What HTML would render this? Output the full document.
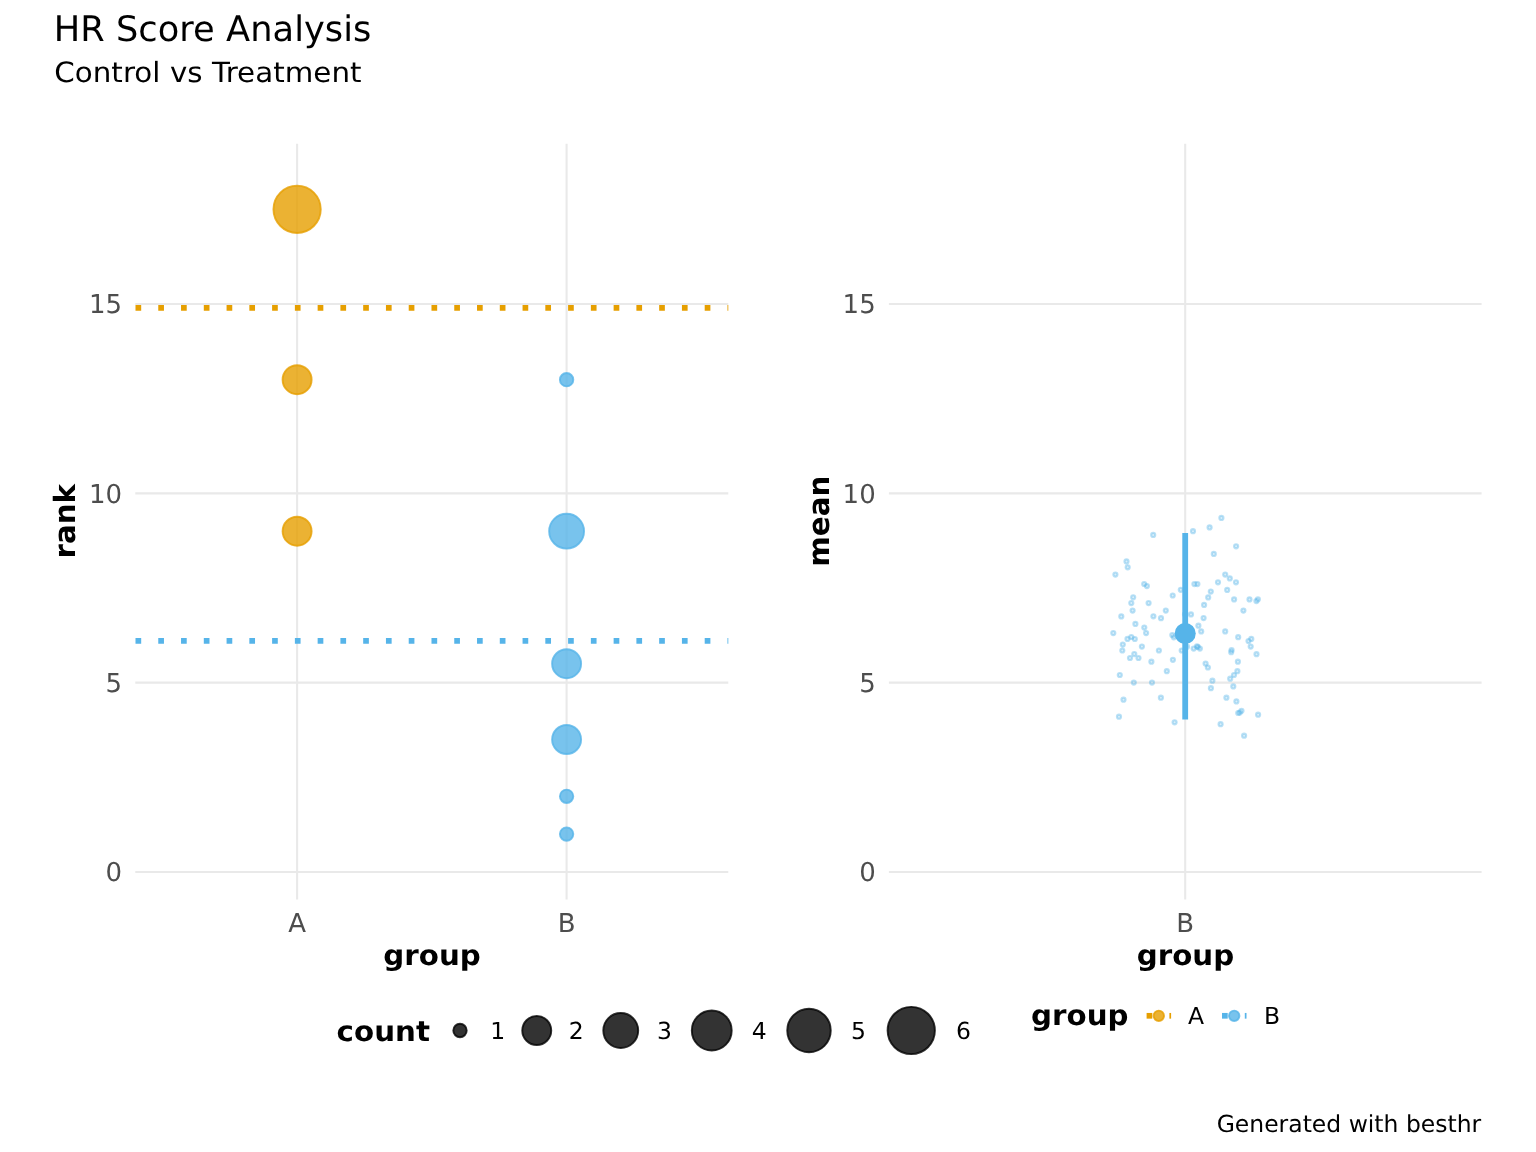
<!DOCTYPE html>
<html lang="en"><head><meta charset="utf-8"><title>HR Score Analysis</title>
<style>html,body{margin:0;padding:0;background:#fff}body{width:1536px;height:1152px;overflow:hidden}svg{display:block}text{font-family:"DejaVu Sans","Liberation Sans",sans-serif;text-rendering:geometricPrecision}.t{font-size:26px;fill:#4D4D4D}.l{font-size:23.47px;fill:#000}.b{font-size:29.33px;font-weight:bold;fill:#000}.g{stroke:#E9E9E9;stroke-width:2.1;fill:none}</style></head><body>
<svg width="1536" height="1152" viewBox="0 0 1536 1152">
<rect width="1536" height="1152" fill="#fff"/>
<text x="53.7" y="40.5" font-size="35.2" fill="#000" textLength="317.7" lengthAdjust="spacing">HR Score Analysis</text>
<text transform="translate(54.2,82.4) scale(1,0.95)" font-size="29.33" fill="#000" textLength="307.4" lengthAdjust="spacing">Control vs Treatment</text>
<g class="g">
<line x1="135.3" x2="728.3" y1="872.00" y2="872.00"/>
<line x1="135.3" x2="728.3" y1="682.66" y2="682.66"/>
<line x1="135.3" x2="728.3" y1="493.33" y2="493.33"/>
<line x1="135.3" x2="728.3" y1="304.00" y2="304.00"/>
<line x1="297.1" x2="297.1" y1="143.7" y2="899.6"/>
<line x1="566.6" x2="566.6" y1="143.7" y2="899.6"/>
<line x1="888.9" x2="1481.6" y1="872.00" y2="872.00"/>
<line x1="888.9" x2="1481.6" y1="682.66" y2="682.66"/>
<line x1="888.9" x2="1481.6" y1="493.33" y2="493.33"/>
<line x1="888.9" x2="1481.6" y1="304.00" y2="304.00"/>
<line x1="1185.2" x2="1185.2" y1="143.7" y2="899.6"/>
</g>
<line x1="135.5" x2="728.3" y1="307.9" y2="307.9" stroke="#E69F00" stroke-width="5.69" stroke-dasharray="5.692 17.076"/>
<line x1="135.5" x2="728.3" y1="640.9" y2="640.9" stroke="#56B4E9" stroke-width="5.69" stroke-dasharray="5.692 17.076"/>
<circle cx="297.1" cy="209.3" r="23.65" fill="#E69F00" fill-opacity="0.80"/>
<circle cx="297.1" cy="209.3" r="23.65" fill="none" stroke="#E69F00" stroke-opacity="0.80" stroke-width="1.90"/>
<circle cx="297.1" cy="379.7" r="14.50" fill="#E69F00" fill-opacity="0.80"/>
<circle cx="297.1" cy="379.7" r="14.50" fill="none" stroke="#E69F00" stroke-opacity="0.80" stroke-width="1.90"/>
<circle cx="297.1" cy="531.2" r="14.50" fill="#E69F00" fill-opacity="0.80"/>
<circle cx="297.1" cy="531.2" r="14.50" fill="none" stroke="#E69F00" stroke-opacity="0.80" stroke-width="1.90"/>
<circle cx="566.6" cy="379.7" r="6.70" fill="#56B4E9" fill-opacity="0.80"/>
<circle cx="566.6" cy="379.7" r="6.70" fill="none" stroke="#56B4E9" stroke-opacity="0.80" stroke-width="1.90"/>
<circle cx="566.6" cy="531.2" r="17.45" fill="#56B4E9" fill-opacity="0.80"/>
<circle cx="566.6" cy="531.2" r="17.45" fill="none" stroke="#56B4E9" stroke-opacity="0.80" stroke-width="1.90"/>
<circle cx="566.6" cy="663.7" r="14.50" fill="#56B4E9" fill-opacity="0.80"/>
<circle cx="566.6" cy="663.7" r="14.50" fill="none" stroke="#56B4E9" stroke-opacity="0.80" stroke-width="1.90"/>
<circle cx="566.6" cy="739.5" r="14.50" fill="#56B4E9" fill-opacity="0.80"/>
<circle cx="566.6" cy="739.5" r="14.50" fill="none" stroke="#56B4E9" stroke-opacity="0.80" stroke-width="1.90"/>
<circle cx="566.6" cy="796.3" r="6.70" fill="#56B4E9" fill-opacity="0.80"/>
<circle cx="566.6" cy="796.3" r="6.70" fill="none" stroke="#56B4E9" stroke-opacity="0.80" stroke-width="1.90"/>
<circle cx="566.6" cy="834.1" r="6.70" fill="#56B4E9" fill-opacity="0.80"/>
<circle cx="566.6" cy="834.1" r="6.70" fill="none" stroke="#56B4E9" stroke-opacity="0.80" stroke-width="1.90"/>
<text class="t" text-anchor="end" x="122.1" y="881.4">0</text>
<text class="t" text-anchor="end" x="875.7" y="881.4">0</text>
<text class="t" text-anchor="end" x="122.1" y="692.1">5</text>
<text class="t" text-anchor="end" x="875.7" y="692.1">5</text>
<text class="t" text-anchor="end" x="122.1" y="502.7">10</text>
<text class="t" text-anchor="end" x="875.7" y="502.7">10</text>
<text class="t" text-anchor="end" x="122.1" y="313.4">15</text>
<text class="t" text-anchor="end" x="875.7" y="313.4">15</text>
<text class="t" text-anchor="middle" x="297.1" y="931.5">A</text>
<text class="t" text-anchor="middle" x="566.6" y="931.5">B</text>
<text class="t" text-anchor="middle" x="1185.2" y="931.5">B</text>
<text class="b" text-anchor="middle" transform="translate(432.1,965) scale(1,0.96)">group</text>
<text class="b" text-anchor="middle" transform="translate(1185.5,965) scale(1,0.96)">group</text>
<text class="b" text-anchor="middle" transform="translate(74.9,521.2) rotate(-90)">rank</text>
<text class="b" text-anchor="middle" transform="translate(829.4,521.2) rotate(-90)">mean</text>
<g fill="#56B4E9" fill-opacity="0.22" stroke="#56B4E9" stroke-opacity="0.4" stroke-width="2.1">
<circle cx="1221.4" cy="517.9" r="2.05"/>
<circle cx="1209.6" cy="527.4" r="2.05"/>
<circle cx="1193.0" cy="531.2" r="2.05"/>
<circle cx="1153.2" cy="534.9" r="2.05"/>
<circle cx="1236.1" cy="546.3" r="2.05"/>
<circle cx="1213.8" cy="553.9" r="2.05"/>
<circle cx="1126.5" cy="561.4" r="2.05"/>
<circle cx="1127.7" cy="567.3" r="2.05"/>
<circle cx="1115.4" cy="574.6" r="2.05"/>
<circle cx="1225.2" cy="574.6" r="2.05"/>
<circle cx="1229.8" cy="578.4" r="2.05"/>
<circle cx="1236.0" cy="582.3" r="2.05"/>
<circle cx="1218.0" cy="582.3" r="2.05"/>
<circle cx="1144.2" cy="584.0" r="2.05"/>
<circle cx="1146.9" cy="586.1" r="2.05"/>
<circle cx="1194.4" cy="584.1" r="2.05"/>
<circle cx="1197.4" cy="584.1" r="2.05"/>
<circle cx="1180.8" cy="589.8" r="2.05"/>
<circle cx="1227.2" cy="589.9" r="2.05"/>
<circle cx="1210.8" cy="591.6" r="2.05"/>
<circle cx="1172.7" cy="595.5" r="2.05"/>
<circle cx="1133.2" cy="597.3" r="2.05"/>
<circle cx="1208.2" cy="597.4" r="2.05"/>
<circle cx="1234.1" cy="599.4" r="2.05"/>
<circle cx="1249.5" cy="599.4" r="2.05"/>
<circle cx="1257.9" cy="599.3" r="2.05"/>
<circle cx="1256.4" cy="601.1" r="2.05"/>
<circle cx="1131.3" cy="603.1" r="2.05"/>
<circle cx="1148.6" cy="603.1" r="2.05"/>
<circle cx="1204.1" cy="604.9" r="2.05"/>
<circle cx="1132.6" cy="610.6" r="2.05"/>
<circle cx="1165.8" cy="610.6" r="2.05"/>
<circle cx="1243.4" cy="610.6" r="2.05"/>
<circle cx="1185.0" cy="614.3" r="2.05"/>
<circle cx="1191.0" cy="614.4" r="2.05"/>
<circle cx="1121.3" cy="616.4" r="2.05"/>
<circle cx="1153.4" cy="616.3" r="2.05"/>
<circle cx="1161.0" cy="618.2" r="2.05"/>
<circle cx="1203.6" cy="618.1" r="2.05"/>
<circle cx="1135.4" cy="623.9" r="2.05"/>
<circle cx="1144.3" cy="627.6" r="2.05"/>
<circle cx="1198.4" cy="625.7" r="2.05"/>
<circle cx="1201.2" cy="631.4" r="2.05"/>
<circle cx="1225.2" cy="631.4" r="2.05"/>
<circle cx="1113.3" cy="633.1" r="2.05"/>
<circle cx="1146.1" cy="633.1" r="2.05"/>
<circle cx="1172.3" cy="635.0" r="2.05"/>
<circle cx="1173.8" cy="637.3" r="2.05"/>
<circle cx="1131.3" cy="637.0" r="2.05"/>
<circle cx="1238.2" cy="637.2" r="2.05"/>
<circle cx="1127.5" cy="638.9" r="2.05"/>
<circle cx="1134.8" cy="639.0" r="2.05"/>
<circle cx="1251.3" cy="638.9" r="2.05"/>
<circle cx="1248.5" cy="641.1" r="2.05"/>
<circle cx="1122.8" cy="644.6" r="2.05"/>
<circle cx="1141.9" cy="646.6" r="2.05"/>
<circle cx="1250.7" cy="646.6" r="2.05"/>
<circle cx="1122.3" cy="650.5" r="2.05"/>
<circle cx="1158.9" cy="650.5" r="2.05"/>
<circle cx="1181.7" cy="650.5" r="2.05"/>
<circle cx="1187.0" cy="646.7" r="2.05"/>
<circle cx="1193.7" cy="648.6" r="2.05"/>
<circle cx="1197.0" cy="646.3" r="2.05"/>
<circle cx="1197.9" cy="647.0" r="2.05"/>
<circle cx="1199.9" cy="648.6" r="2.05"/>
<circle cx="1231.6" cy="650.0" r="2.05"/>
<circle cx="1231.2" cy="652.2" r="2.05"/>
<circle cx="1134.3" cy="654.1" r="2.05"/>
<circle cx="1256.5" cy="654.2" r="2.05"/>
<circle cx="1130.0" cy="658.0" r="2.05"/>
<circle cx="1138.5" cy="658.0" r="2.05"/>
<circle cx="1172.9" cy="659.8" r="2.05"/>
<circle cx="1151.4" cy="661.7" r="2.05"/>
<circle cx="1237.9" cy="661.7" r="2.05"/>
<circle cx="1205.6" cy="663.6" r="2.05"/>
<circle cx="1207.9" cy="667.5" r="2.05"/>
<circle cx="1166.8" cy="671.2" r="2.05"/>
<circle cx="1237.4" cy="671.2" r="2.05"/>
<circle cx="1234.0" cy="675.0" r="2.05"/>
<circle cx="1119.8" cy="675.0" r="2.05"/>
<circle cx="1230.2" cy="678.7" r="2.05"/>
<circle cx="1212.4" cy="680.7" r="2.05"/>
<circle cx="1133.8" cy="682.6" r="2.05"/>
<circle cx="1152.0" cy="682.6" r="2.05"/>
<circle cx="1233.3" cy="686.4" r="2.05"/>
<circle cx="1210.9" cy="688.2" r="2.05"/>
<circle cx="1160.9" cy="697.7" r="2.05"/>
<circle cx="1226.4" cy="697.7" r="2.05"/>
<circle cx="1123.5" cy="699.7" r="2.05"/>
<circle cx="1236.4" cy="701.4" r="2.05"/>
<circle cx="1241.5" cy="710.8" r="2.05"/>
<circle cx="1239.8" cy="712.6" r="2.05"/>
<circle cx="1238.2" cy="713.0" r="2.05"/>
<circle cx="1258.1" cy="714.7" r="2.05"/>
<circle cx="1119.0" cy="716.7" r="2.05"/>
<circle cx="1174.6" cy="722.3" r="2.05"/>
<circle cx="1220.6" cy="724.2" r="2.05"/>
<circle cx="1244.1" cy="735.7" r="2.05"/>
</g>
<line x1="1185.2" x2="1185.2" y1="533.0" y2="719.6" stroke="#56B4E9" stroke-width="5.8"/>
<circle cx="1185.2" cy="633.5" r="10.55" fill="#56B4E9"/>
<text class="b" transform="translate(336.6,1041) scale(1,0.96)">count</text>
<circle cx="460.00" cy="1030.5" r="6.70" fill="#000" fill-opacity="0.8"/>
<circle cx="460.00" cy="1030.5" r="6.70" fill="none" stroke="#000" stroke-opacity="0.8" stroke-width="1.9"/>
<text class="l" x="490.3" y="1039">1</text>
<circle cx="536.75" cy="1030.5" r="14.50" fill="#000" fill-opacity="0.8"/>
<circle cx="536.75" cy="1030.5" r="14.50" fill="none" stroke="#000" stroke-opacity="0.8" stroke-width="1.9"/>
<text class="l" x="568.7" y="1039">2</text>
<circle cx="620.75" cy="1030.5" r="17.45" fill="#000" fill-opacity="0.8"/>
<circle cx="620.75" cy="1030.5" r="17.45" fill="none" stroke="#000" stroke-opacity="0.8" stroke-width="1.9"/>
<text class="l" x="657.0" y="1039">3</text>
<circle cx="711.75" cy="1030.5" r="19.95" fill="#000" fill-opacity="0.8"/>
<circle cx="711.75" cy="1030.5" r="19.95" fill="none" stroke="#000" stroke-opacity="0.8" stroke-width="1.9"/>
<text class="l" x="751.8" y="1039">4</text>
<circle cx="809.00" cy="1030.5" r="21.75" fill="#000" fill-opacity="0.8"/>
<circle cx="809.00" cy="1030.5" r="21.75" fill="none" stroke="#000" stroke-opacity="0.8" stroke-width="1.9"/>
<text class="l" x="851.0" y="1039">5</text>
<circle cx="911.25" cy="1030.5" r="23.65" fill="#000" fill-opacity="0.8"/>
<circle cx="911.25" cy="1030.5" r="23.65" fill="none" stroke="#000" stroke-opacity="0.8" stroke-width="1.9"/>
<text class="l" x="955.9" y="1039">6</text>
<text class="b" transform="translate(1031.1,1025.4) scale(1,0.96)">group</text>
<rect x="1146.6" y="1012.95" width="5.7" height="5.7" fill="#E69F00"/>
<rect x="1169.4" y="1012.95" width="1.7" height="5.7" fill="#E69F00"/>
<circle cx="1158.8" cy="1015.8" r="5.20" fill="#E69F00" fill-opacity="0.80"/>
<circle cx="1158.8" cy="1015.8" r="5.20" fill="none" stroke="#E69F00" stroke-opacity="0.80" stroke-width="1.90"/>
<text class="l" x="1188.0" y="1023.9">A</text>
<rect x="1222.0" y="1012.95" width="5.7" height="5.7" fill="#56B4E9"/>
<rect x="1244.8" y="1012.95" width="1.7" height="5.7" fill="#56B4E9"/>
<circle cx="1234.2" cy="1015.8" r="5.20" fill="#56B4E9" fill-opacity="0.80"/>
<circle cx="1234.2" cy="1015.8" r="5.20" fill="none" stroke="#56B4E9" stroke-opacity="0.80" stroke-width="1.90"/>
<text class="l" x="1264.0" y="1023.9">B</text>
<text class="l" text-anchor="end" x="1481.2" y="1131.8">Generated with besthr</text>
</svg></body></html>
